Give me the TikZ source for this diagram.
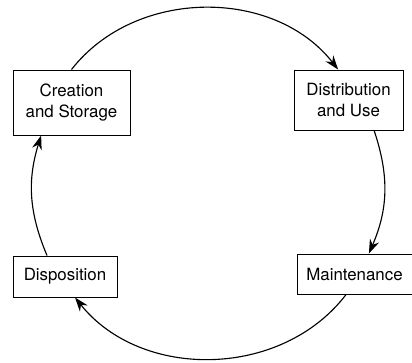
\documentclass[tikz,border=0pt]{standalone}
\usepackage{fontspec}
\setmainfont{TeX Gyre Heros}
\usepackage{tikz}
\usetikzlibrary{arrows.meta}
\tikzstyle{stageBox}=[shape = rectangle, draw, line width = 0.7pt, inner sep = 0pt, align = center, font = \fontsize{12}{14.5}\selectfont]
\tikzstyle{cycleEdge}=[line width = 0.8pt, -{Stealth[length = 10pt, width = 7pt]}]

\begin{document}
\begin{tikzpicture}
\useasboundingbox (0,0) rectangle (10.3,9.05);
\node[stageBox, minimum width = 2.925cm, minimum height = 1.625cm] (s0) at (1.7875,6.4875) {Creation\\and Storage};
\node[stageBox, minimum width = 2.725cm, minimum height = 1.5cm] (s1) at (8.7125,6.55) {Distribution\\and Use};
\node[stageBox, minimum width = 2.875cm, minimum height = 1.0cm] (s2) at (8.8625,2.2) {Maintenance};
\node[stageBox, minimum width = 2.6cm, minimum height = 1.025cm] (s3) at (1.625,2.1375) {Disposition};
\draw[cycleEdge] (s0.north) to[bend left = 52] ([xshift = -0.26cm]s1.north);
\draw[cycleEdge] ([xshift = 0.64cm]s1.south) to[bend left = 21] ([xshift = 0.36cm]s2.north);
\draw[cycleEdge] ([xshift = -0.21cm]s2.south) to[bend left = 52] ([xshift = 0.25cm]s3.south);
\draw[cycleEdge] ([xshift = -0.45cm]s3.north) to[bend left = 20] ([xshift = -0.76cm]s0.south);
\end{tikzpicture}
\end{document}
